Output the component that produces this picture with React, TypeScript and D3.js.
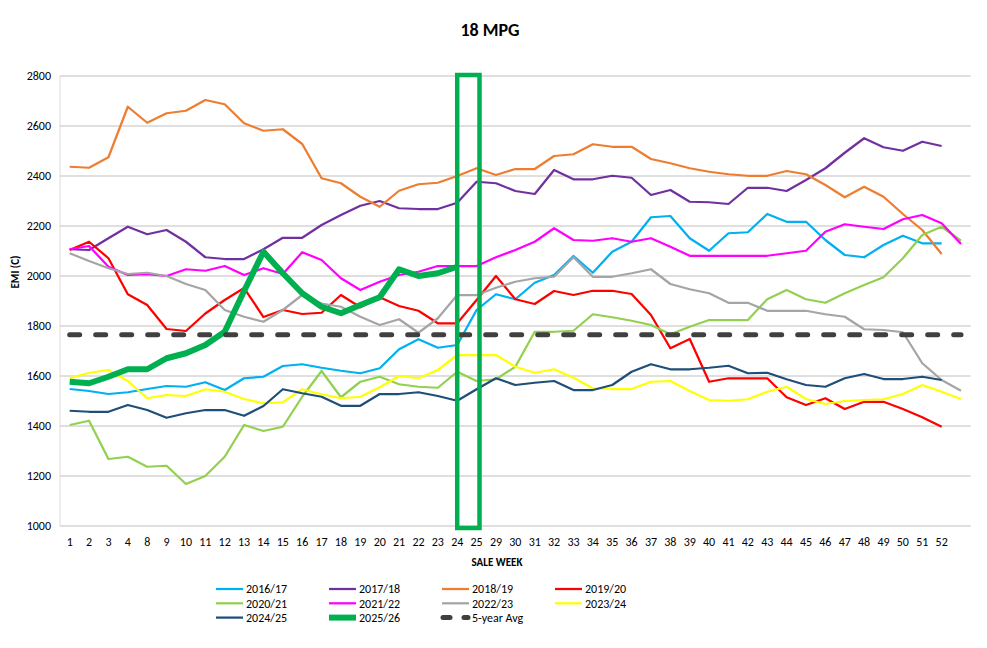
import React from 'react';
import * as d3 from 'd3';

// sale weeks on the x axis (last slot has no label)
const weeks = ['1', '2', '3', '4', '8', '9', '10', '11', '12', '13', '14', '15', '16', '17', '18', '19', '20', '21', '22', '23', '24', '25',
  '29', '30', '31', '32', '33', '34', '35', '36', '37', '38', '39', '40', '41', '42', '43', '44', '45', '46', '47', '48', '49', '50', '51', '52', ''];

const yTicks = [1000, 1200, 1400, 1600, 1800, 2000, 2200, 2400, 2600, 2800];

type V = number | null;

const s1617: V[] = [1548, 1540, 1528, 1535, 1548, 1560, 1557, 1575, 1544, 1591, 1597, 1640, 1647, 1633, 1621, 1611, 1631, 1707, 1747, 1713, 1724, 1864,
  1927, 1907, 1973, 2004, 2080, 2013, 2097, 2137, 2235, 2240, 2151, 2101, 2171, 2175, 2248, 2217, 2217, 2144, 2084, 2075, 2124, 2161, 2131, 2131, null];
const s1718: V[] = [2107, 2104, 2151, 2197, 2167, 2184, 2137, 2075, 2068, 2068, 2107, 2153, 2153, 2204, 2244, 2281, 2300, 2271, 2268, 2268, 2293, 2377,
  2371, 2340, 2328, 2424, 2387, 2387, 2401, 2393, 2324, 2344, 2297, 2295, 2288, 2353, 2353, 2340, 2384, 2431, 2493, 2551, 2515, 2501, 2537, 2520, null];
const s1819: V[] = [2437, 2433, 2475, 2677, 2613, 2651, 2661, 2704, 2687, 2611, 2581, 2587, 2528, 2391, 2371, 2317, 2277, 2341, 2367, 2373, 2400, 2431,
  2404, 2428, 2428, 2480, 2487, 2527, 2517, 2517, 2468, 2451, 2431, 2417, 2407, 2401, 2401, 2420, 2407, 2364, 2315, 2357, 2317, 2248, 2184, 2088, null];
const s1920: V[] = [2104, 2137, 2071, 1927, 1884, 1788, 1780, 1850, 1904, 1952, 1836, 1864, 1848, 1853, 1924, 1875, 1915, 1880, 1861, 1811, 1811, 1904,
  2000, 1907, 1888, 1940, 1924, 1941, 1941, 1928, 1844, 1711, 1748, 1577, 1591, 1591, 1591, 1515, 1484, 1511, 1468, 1497, 1497, 1468, 1435, 1397, null];
const s2021: V[] = [1404, 1421, 1268, 1277, 1237, 1241, 1168, 1200, 1277, 1404, 1380, 1397, 1517, 1620, 1515, 1577, 1597, 1567, 1557, 1553, 1617, 1580,
  1587, 1637, 1777, 1777, 1781, 1847, 1835, 1821, 1804, 1767, 1797, 1824, 1824, 1824, 1907, 1944, 1907, 1893, 1931, 1964, 1995, 2071, 2164, 2197, 2141];
const s2122: V[] = [2107, 2120, 2037, 2004, 2007, 2000, 2027, 2021, 2040, 2004, 2031, 2008, 2095, 2064, 1991, 1944, 1977, 2004, 2017, 2040, 2040, 2040,
  2075, 2104, 2137, 2191, 2144, 2141, 2151, 2137, 2151, 2117, 2081, 2081, 2081, 2081, 2081, 2091, 2101, 2177, 2207, 2197, 2188, 2227, 2244, 2211, 2128];
const s2223: V[] = [2091, 2060, 2031, 2008, 2013, 2000, 1968, 1944, 1864, 1837, 1817, 1864, 1924, 1890, 1877, 1837, 1804, 1827, 1773, 1831, 1924, 1924,
  1953, 1977, 1991, 1997, 2075, 1997, 1997, 2011, 2027, 1968, 1947, 1931, 1893, 1893, 1861, 1861, 1861, 1847, 1837, 1787, 1784, 1775, 1651, 1584, 1541];
const s2324: V[] = [1591, 1613, 1624, 1580, 1511, 1524, 1520, 1547, 1537, 1508, 1491, 1495, 1547, 1527, 1511, 1517, 1555, 1600, 1591, 1624, 1684, 1684,
  1684, 1637, 1613, 1627, 1593, 1551, 1548, 1548, 1577, 1580, 1540, 1504, 1501, 1507, 1537, 1557, 1508, 1488, 1500, 1504, 1507, 1528, 1564, 1537, 1508];
const s2425: V[] = [1461, 1457, 1457, 1484, 1464, 1433, 1451, 1464, 1464, 1441, 1480, 1547, 1531, 1517, 1481, 1481, 1528, 1528, 1535, 1520, 1501, 1547,
  1591, 1564, 1573, 1580, 1544, 1544, 1564, 1617, 1647, 1627, 1627, 1633, 1641, 1611, 1613, 1587, 1564, 1557, 1591, 1608, 1588, 1588, 1597, 1584, null];
const s2526: V[] = [1577, 1571, 1597, 1627, 1627, 1671, 1691, 1724, 1777, 1940, 2097, 2011, 1931, 1877, 1851, 1884, 1915, 2027, 2000, 2011, 2037];
const avg5: V[] = weeks.map(() => 1765);

const seriesNames = ['2016/17', '2017/18', '2018/19', '2019/20', '2020/21', '2021/22', '2022/23', '2023/24', '2024/25', '2025/26', '5-year Avg'];
const seriesValues = [s1617, s1718, s1819, s1920, s2021, s2122, s2223, s2324, s2425, s2526, avg5];
const seriesColors = ['#00B0F0', '#7030A0', '#ED7D31', '#FF0000', '#92D050', '#FF00FF', '#A5A5A5', '#FFFF00', '#1F4E79', '#00B050', '#404040'];

// highlighted weeks
const boxWeeks = ['24', '25'];

const W = 987;
const H = 648;
const font = "Calibri, Carlito, 'Liberation Sans Narrow', 'Liberation Sans', Arial, sans-serif";

export default function App() {
  const x = d3.scalePoint<string>()
    .domain(weeks.map((_, i) => String(i)))
    .range([60, 970.7])
    .padding(0.5);
  const y = d3.scaleLinear().domain([1000, 2800]).range([526, 76]);
  const xi = (i: number) => x(String(i)) as number;
  const step = x.step();

  const line = d3.line<V>()
    .defined(d => d != null)
    .x((_, i) => xi(i))
    .y(d => y(d as number));

  const styleOf = (k: number) => {
    if (k === 9) return { width: 6, dash: undefined, cap: 'butt' };
    if (k === 10) return { width: 5, dash: '10,16', cap: 'round' };
    return { width: 2.25, dash: undefined, cap: 'butt' };
  };

  const b0 = xi(weeks.indexOf(boxWeeks[0]));
  const b1 = xi(weeks.indexOf(boxWeeks[1])) + step * 0.15;

  return (
    <svg width={W} height={H} style={{ position: 'absolute', left: 0, top: 0, background: '#fff' }} fontFamily={font}>
      <text x={490} y={36} textAnchor="middle" fontSize={18} fontWeight="bold" fill="#000">18 MPG</text>

      {yTicks.map(t => (
        <g key={t}>
          <line x1={60} x2={970.7} y1={y(t)} y2={y(t)} stroke="#BFBFBF" strokeWidth={1} />
          <text x={51} y={y(t)} dy="0.35em" textAnchor="end" fontSize={12} fill="#000">{t}</text>
        </g>
      ))}
      <line x1={60} x2={60} y1={76} y2={526} stroke="#D9D9D9" strokeWidth={1} />

      {weeks.map((w, i) => (
        <text key={i} x={xi(i)} y={546} textAnchor="middle" fontSize={12} fill="#000">{w}</text>
      ))}

      <text x={497} y={566} textAnchor="middle" fontSize={11} fontWeight="bold" fill="#000">SALE WEEK</text>
      <text transform="translate(19,272) rotate(-90)" textAnchor="middle" fontSize={11} fontWeight="bold" fill="#000">EMI (C)</text>

      {seriesValues.map((vals, k) => {
        const st = styleOf(k);
        return (
          <path key={k} d={line(vals) || ''} fill="none" stroke={seriesColors[k]}
            strokeWidth={st.width} strokeDasharray={st.dash} strokeLinecap={st.cap as any} strokeLinejoin="round" />
        );
      })}

      <rect x={b0} y={y(2800) - 1} width={b1 - b0} height={y(1000) - y(2800) + 3}
        fill="none" stroke="#00B050" strokeWidth={4.5} />

      {seriesNames.map((name, k) => {
        const col = k % 4;
        const row = Math.floor(k / 4);
        const lx = 216 + col * 113;
        const ly = 589 + row * 14.3;
        const st = styleOf(k);
        return (
          <g key={name}>
            {k === 10 ? (
              <>
                <line x1={lx + 1} x2={lx + 8} y1={ly} y2={ly} stroke={seriesColors[k]} strokeWidth={5} strokeLinecap="round" />
                <line x1={lx + 22} x2={lx + 26} y1={ly} y2={ly} stroke={seriesColors[k]} strokeWidth={5} strokeLinecap="round" />
              </>
            ) : (
              <line x1={lx} x2={lx + 27} y1={ly} y2={ly} stroke={seriesColors[k]} strokeWidth={st.width} />
            )}
            <text x={lx + 30} y={ly} dy="0.35em" fontSize={12} fill="#000">{name}</text>
          </g>
        );
      })}
    </svg>
  );
}
